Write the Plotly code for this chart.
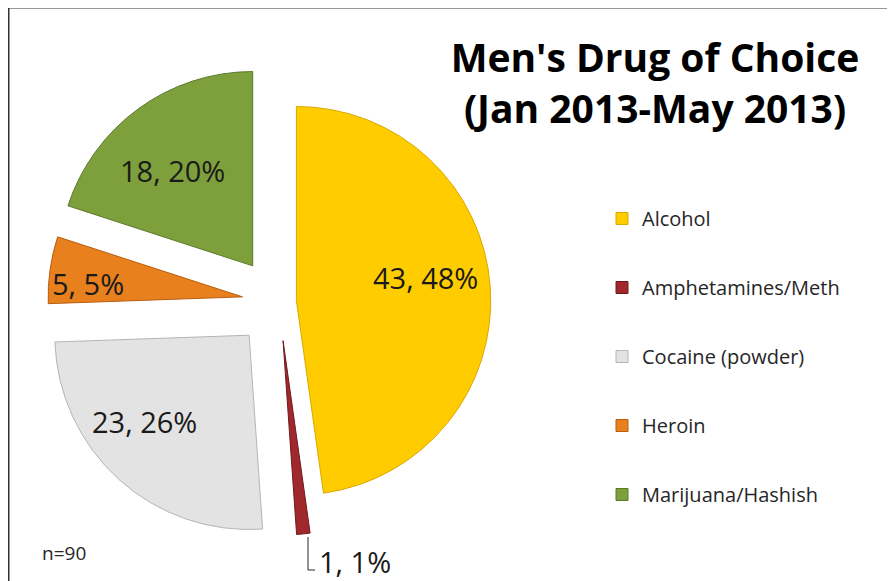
import plotly.graph_objects as go

# page has an 8px body margin; figure is drawn 8px in from the page corner
OFF = 8
W, H = 895 - OFF, 581 - OFF

categories = ["Alcohol", "Amphetamines/Meth", "Cocaine (powder)", "Heroin", "Marijuana/Hashish"]
counts = [43, 1, 23, 5, 18]
pct_labels = ["48%", "1%", "26%", "5%", "20%"]

colors = ["#FFCC00", "#A0282C", "#E3E3E3", "#E8801E", "#7DA03C"]
edges = ["#D9A900", "#6E1A1D", "#B5B5B5", "#B85E10", "#5B7A28"]
pulls = [0.09, 0.20, 0.23, 0.19, 0.23]

# label anchor positions on the page (pixels), one per slice
label_pos = [(425, 277), (317, 561), (144, 421), (88, 283), (172, 171)]
label_anchor = ["center", "left", "center", "center", "center"]


def px(x):
    return (x - OFF) / W


def py(y):
    return 1 - (y - OFF) / H


# pie box: center (279, 302), side 478 (page pixels)
cx, cy, side = 279, 302, 478
dom_x = [px(cx - side / 2), px(cx + side / 2)]
dom_y = [py(cy + side / 2), py(cy - side / 2)]

label_font = dict(family="Open Sans", size=29, color="#1a1a1a")

fig = go.Figure()

fig.add_trace(go.Pie(
    labels=categories,
    values=counts,
    customdata=pct_labels,
    textinfo="none",
    marker=dict(colors=colors, line=dict(color=edges, width=1)),
    pull=pulls,
    sort=False,
    direction="clockwise",
    rotation=0,
    domain=dict(x=dom_x, y=dom_y),
    showlegend=False,
    hovertemplate="%{label}: %{value}, %{customdata}<extra></extra>",
))

# legend entries
for cat, col, ed in zip(categories, colors, edges):
    fig.add_trace(go.Scatter(
        x=[None], y=[None], mode="markers", name=cat, legendgroup=cat,
        marker=dict(symbol="square", size=12, color=col, line=dict(color=ed, width=1)),
        showlegend=True, hoverinfo="skip",
    ))

annotations = []
for v, p, (lx, ly), anc in zip(counts, pct_labels, label_pos, label_anchor):
    annotations.append(dict(
        text=f"{v}, {p}", x=px(lx), y=py(ly), xref="paper", yref="paper",
        xanchor=anc, yanchor="middle", showarrow=False, font=label_font))
annotations.append(dict(
    text="n=90", x=px(40), y=py(553), xref="paper", yref="paper",
    xanchor="left", yanchor="middle", showarrow=False,
    font=dict(family="Open Sans", size=19, color="#262626")))

fig.update_layout(
    width=W, height=H,
    margin=dict(l=0, r=0, t=0, b=0),
    paper_bgcolor="white", plot_bgcolor="white",
    xaxis=dict(visible=False), yaxis=dict(visible=False),
    showlegend=True,
    legend=dict(
        x=px(602), y=py(199), xanchor="left", yanchor="top",
        font=dict(family="Open Sans", size=20, color="#262626"),
        tracegroupgap=40, itemwidth=30, bgcolor="rgba(0,0,0,0)",
    ),
    title=dict(
        text="Men's Drug of Choice<br>(Jan 2013-May 2013)",
        x=px(655), xanchor="center", y=py(72), yanchor="middle",
        font=dict(family="Open Sans", size=39, color="#000000", weight="bold"),
    ),
    annotations=annotations,
    shapes=[
        dict(type="rect", xref="paper", yref="paper", x0=px(8.5), y0=-0.05, x1=1.05, y1=py(7.5),
             line=dict(color="#333333", width=2)),
        dict(type="path", xref="paper", yref="paper",
             path=f"M {px(308)} {py(537)} L {px(308)} {py(570)} L {px(315)} {py(570)}",
             line=dict(color="#262626", width=1)),
    ],
)

fig.write_html("out.html")
